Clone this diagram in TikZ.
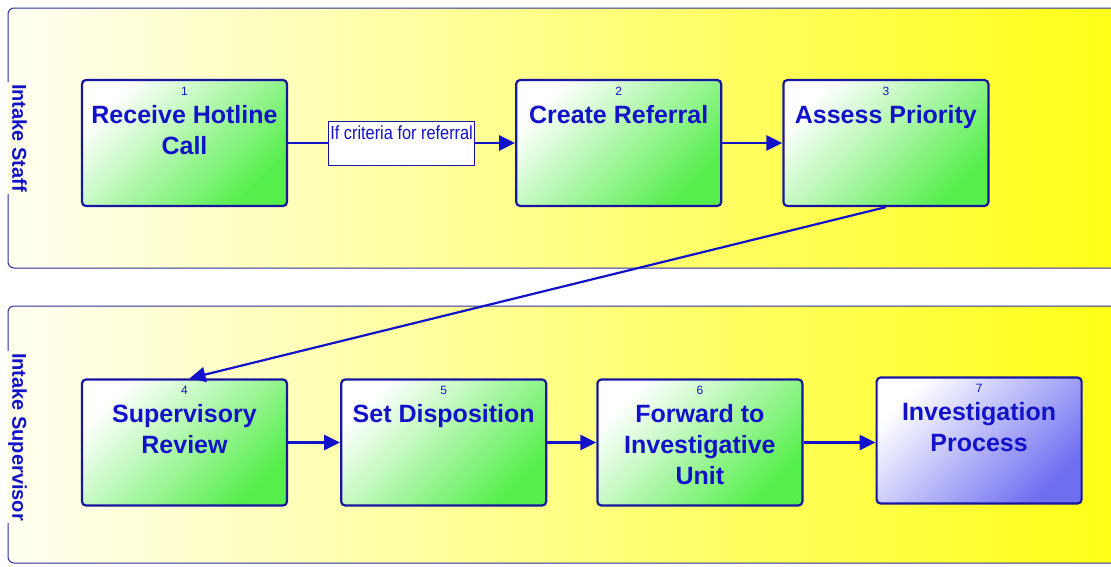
\documentclass[tikz,border=0pt]{standalone}
\usepackage{fontspec}
\setmainfont{Liberation Sans}
\newfontfamily\narrowfont[FakeStretch=0.86]{Liberation Sans}
\usepackage{tikz}
\usetikzlibrary{positioning,arrows.meta}
\definecolor{ink}{RGB}{18,18,200}
\definecolor{edge}{RGB}{22,22,160}
\definecolor{lanedge}{RGB}{45,45,160}
\definecolor{leaf}{RGB}{85,238,75}
\definecolor{lilac}{RGB}{110,110,240}
\definecolor{lemon}{RGB}{255,255,20}
\newcommand{\taskbody}[2]{\parbox[c][126pt][t]{205pt}{\centering
  {\fontsize{12}{14}\selectfont\rule{0pt}{15pt}#1\par}\vspace{-3pt}
  {\fontsize{25}{31}\selectfont\bfseries #2\par}}}

\begin{document}
\begin{tikzpicture}[x=1pt,y=-1pt,>={Triangle[length=16pt,width=15pt]}]
\tikzstyle{lane}=[draw=lanedge,line width=1pt,rounded corners=6pt,
  left color=yellow!5,right color=lemon]
\tikzstyle{lanelbl}=[rotate=-90,fill=yellow!8,text=ink,inner sep=2pt,
  font=\fontsize{20}{24}\selectfont\bfseries,text height=15pt,text depth=4pt]
\tikzstyle{task}=[draw=edge,line width=2.2pt,rounded corners=4pt,inner sep=0pt,
  text=ink,top color=white,bottom color=leaf,shading angle=45]
\tikzstyle{bluetask}=[top color=white,bottom color=lilac,shading angle=45]
\tikzstyle{flow}=[draw=ink,line width=2.6pt,->]
\tikzstyle{cond}=[draw=edge,line width=0.8pt,fill=white,text=ink,
  font=\narrowfont\fontsize{19}{22}\selectfont,inner xsep=1pt,inner ysep=1.5pt,
  text height=17pt,text depth=24pt,minimum width=146pt]

\useasboundingbox (0,0) rectangle (1111,566);
\clip (0,0) rectangle (1111,566);

\path[lane] (8,8) rectangle (1130,268);
\path[lane] (8,306) rectangle (1130,563);
\node[lanelbl] (staff) at (18,138) {Intake Staff};
\node[lanelbl] (super) at (18,437) {Intake Supervisor};

\node[task] (n1) at (184.5,143) {\taskbody{1}{Receive Hotline\\Call}};
\node[task,right=227pt of n1] (n2) {\taskbody{2}{Create Referral}};
\node[task,right=60pt of n2] (n3) {\taskbody{3}{Assess Priority}};

\node[task] (n4) at (184.5,442.5) {\taskbody{4}{Supervisory\\Review}};
\node[task,right=52pt of n4] (n5) {\taskbody{5}{Set Disposition}};
\node[task,right=49pt of n5] (n6) {\taskbody{6}{Forward to\\Investigative\\Unit}};
\node[task,bluetask,right=72pt of n6,yshift=2pt] (n7)
  {\taskbody{7}{Investigation\\Process}};

\draw[flow] (n1) -- (n2) node[cond,midway] (crit) {If criteria for referral};
\draw[flow] (n2) -- (n3);
\draw[flow,line width=2.2pt] (n3.south) -- ([xshift=5pt]n4.north);
\draw[flow] (n4) -- (n5);
\draw[flow] (n5) -- (n6);
\draw[flow] (n6) -- (n6 -| n7.west);
\end{tikzpicture}
\end{document}
